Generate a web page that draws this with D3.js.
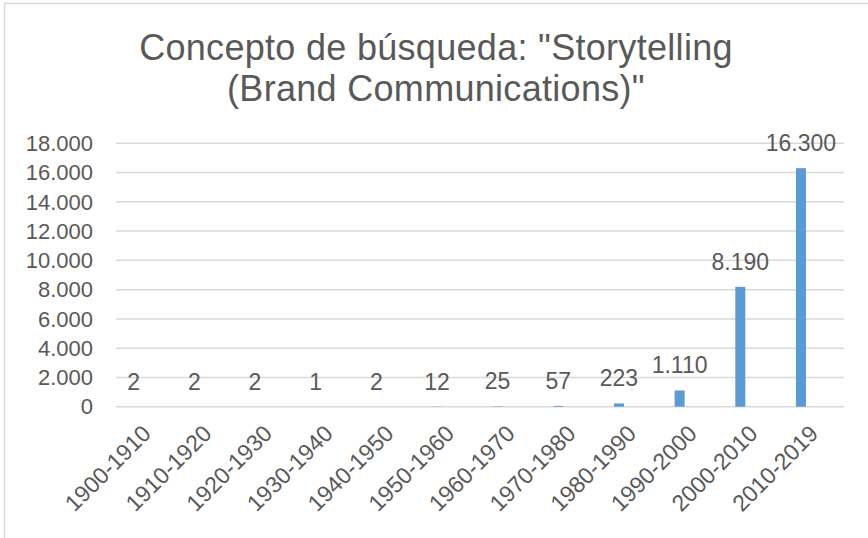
<!DOCTYPE html>
<html>
<head>
<meta charset="utf-8">
<script src="https://cdn.jsdelivr.net/npm/d3@7"></script>
<style>
  body { margin: 0; background: #fff; }
  text { font-family: "Liberation Sans", Arial, sans-serif; fill: #595959; }
</style>
</head>
<body>
<div id="chart"></div>
<script>
const width = 868;
const height = 538;

// Datos del gráfico
const periodos = ["1900-1910", "1910-1920", "1920-1930", "1930-1940", "1940-1950", "1950-1960",
    "1960-1970", "1970-1980", "1980-1990", "1990-2000", "2000-2010", "2010-2019"];
const resultados = [2, 2, 2, 1, 2, 12, 25, 57, 223, 1110, 8190, 16300];
const ticksY = [0, 2000, 4000, 6000, 8000, 10000, 12000, 14000, 16000, 18000];
const titulo = ["Concepto de búsqueda: \"Storytelling", "(Brand Communications)\""];

// Formato con punto como separador de miles
const locale = d3.formatLocale({ decimal: ",", thousands: ".", grouping: [3], currency: ["", ""] });
const fmt = locale.format(",d");

const svg = d3.select("#chart").append("svg")
    .attr("width", width)
    .attr("height", height);

// Borde del área del gráfico
svg.append("path")
    .attr("d", `M4.5,${height}V3.5H${width}`)
    .attr("fill", "none")
    .attr("stroke", "#d9d9d9")
    .attr("stroke-width", 1.5);

// Título
svg.append("text")
    .attr("text-anchor", "middle")
    .attr("font-size", 36)
    .attr("letter-spacing", 0.3)
    .selectAll("tspan")
    .data(titulo)
    .enter().append("tspan")
    .attr("x", 436)
    .attr("y", (d, i) => 60 + i * 41)
    .text(d => d);

const x = d3.scaleBand()
    .domain(periodos)
    .range([116, 844]);

const y = d3.scaleLinear()
    .domain([0, 18000])
    .range([406.7, 143.3]);

// Líneas de cuadrícula
svg.append("g")
    .selectAll("line")
    .data(ticksY)
    .enter().append("line")
    .attr("x1", 116)
    .attr("x2", 844)
    .attr("y1", d => y(d))
    .attr("y2", d => y(d))
    .attr("stroke", "#d9d9d9")
    .attr("stroke-width", 1.5);

// Etiquetas del eje Y
svg.append("g")
    .selectAll("text")
    .data(ticksY)
    .enter().append("text")
    .attr("x", 93)
    .attr("y", d => y(d))
    .attr("dy", "0.35em")
    .attr("text-anchor", "end")
    .attr("font-size", 22)
    .text(d => fmt(d));

// Barras (desplazadas a la izquierda del centro de la categoría)
const barOffset = x.bandwidth() * 0.208;
const barWidth = x.bandwidth() * 0.165;

svg.append("g")
    .selectAll("rect")
    .data(resultados)
    .enter().append("rect")
    .attr("x", (d, i) => x(periodos[i]) + barOffset)
    .attr("y", d => y(d))
    .attr("width", barWidth)
    .attr("height", d => y(0) - y(d))
    .attr("fill", "#5b9bd5");

// Etiquetas de datos
svg.append("g")
    .selectAll("text")
    .data(resultados)
    .enter().append("text")
    .attr("x", (d, i) => x(periodos[i]) + barOffset + barWidth / 2)
    .attr("y", d => y(d) - 17)
    .attr("text-anchor", "middle")
    .attr("font-size", 23)
    .text(d => fmt(d));

// Etiquetas del eje X (rotadas)
svg.append("g")
    .selectAll("text")
    .data(periodos)
    .enter().append("text")
    .attr("text-anchor", "end")
    .attr("font-size", 23)
    .attr("transform", d => `translate(${x(d) + x.bandwidth() / 2 + 6},435) rotate(-45)`)
    .text(d => d);
</script>
</body>
</html>
